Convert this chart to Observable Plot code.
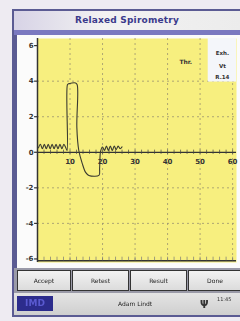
<!DOCTYPE html>
<html><head><meta charset="utf-8">
<script src="https://cdn.jsdelivr.net/npm/d3@7"></script>
<script src="https://cdn.jsdelivr.net/npm/@observablehq/plot@0.6"></script>
<style>
html,body{margin:0;padding:0;width:240px;height:321px;overflow:hidden;background:#eeebf2;font-family:"DejaVu Sans",sans-serif;}
#wrap{position:absolute;left:0;top:0;width:240px;height:321px;filter:blur(0.35px);}
#frame{position:absolute;left:12px;top:9px;width:228px;height:308px;background:#5b5b93;}
#titlebar{position:absolute;left:14px;top:11px;width:226px;height:19px;background:linear-gradient(90deg,#d7d3e6,#f2f2f2 40%,#ececec);text-align:center;font:bold 9px "DejaVu Sans";color:#3b3b8c;line-height:19px;letter-spacing:0.2px;}
#band{position:absolute;left:14px;top:30px;width:226px;height:5px;background:#7b79c0;}
#panel{position:absolute;left:17px;top:35px;width:223px;height:233px;background:#fbfbfb;}
#chart{position:absolute;left:17px;top:35px;}
#btnbar{position:absolute;left:14px;top:268px;width:226px;height:25px;background:#9a9aa8;}
.btn{position:absolute;top:270px;height:21px;background:linear-gradient(#f2f2f2,#dcdcdc);border:1px solid #333;box-sizing:border-box;font:6px "DejaVu Sans";color:#222;text-align:center;line-height:20px;}
#status{position:absolute;left:14px;top:293px;width:226px;height:22px;background:linear-gradient(#e4e4e4,#cfcfcf);}
#logo{position:absolute;left:17px;top:296px;width:36px;height:15px;background:#2c2c8c;color:#5a5ad0;font:bold 9px "DejaVu Sans";line-height:15px;text-align:center;}
#user{position:absolute;left:100px;top:296px;width:70px;text-align:center;font:6px "DejaVu Sans";color:#222;line-height:15px;}
#ant{position:absolute;left:200px;top:297px;font:bold 10px "DejaVu Sans";color:#333;line-height:15px;}
#clock{position:absolute;left:217px;top:296px;font:5px "DejaVu Sans";color:#333;}
</style></head>
<body>
<div id="wrap">
<div id="frame"></div>
<div id="titlebar">Relaxed Spirometry</div>
<div id="band"></div>
<div id="panel"></div>
<div id="chart"></div>
<div id="btnbar"></div>
<div class="btn" style="left:17px;width:54px;">Accept</div>
<div class="btn" style="left:72px;width:57px;">Retest</div>
<div class="btn" style="left:130px;width:57px;">Result</div>
<div class="btn" style="left:188px;width:54px;">Done</div>
<div id="status"></div>
<div id="logo">IMD</div>
<div id="user">Adam Lindt</div>
<div id="ant">Ψ</div>
<div id="clock">11:45</div>
</div>
<script>
// Flow trace (time in s, flow in L/s)
const timeVals = [0.3,0.9,1.5,2.1,2.7,3.3,3.9,4.5,5.1,5.7,6.3,6.9,7.5,8.1,8.7,9.1,9.2,9.5,11.7,12.2,12.1,12.7,13.75,14.8,15.8,18.9,19.1,19.4,20.0,20.6,21.2,21.8,22.4,23.0,23.6,24.2,24.8,25.4,26.0];
const flowVals = [0.25,0.45,0.2,0.45,0.2,0.45,0.2,0.45,0.2,0.45,0.2,0.45,0.2,0.45,0.25,0.1,3.8,3.85,3.9,3.8,1.4,0.1,-0.62,-1.13,-1.3,-1.3,-0.9,0.05,0.3,0.1,0.35,0.1,0.35,0.1,0.35,0.15,0.35,0.2,0.3];
const xTicks = [10,20,30,40,50,60];
const yTicks = [-6,-4,-2,0,2,4,6];
const yGrid = [-4,-2,2,4];
const minorX = d3.range(2,61,2);
const noteLabels = ["Thr."];
const noteX = [45.6];
const noteY = [5.05];
const boxLabels = ["Exh.","Vt","R.14"];
const boxLabelY = [5.55,4.85,4.2];
const boxX = [52.5, 61.2];
const boxY = [3.95, 6.4];

const trace = timeVals.map((t,i)=>({t, f: flowVals[i]}));
const yMin = -6.1;

const chart = Plot.plot({
  width: 223, height: 233,
  marginLeft: 20, marginRight: 4, marginTop: 3, marginBottom: 6,
  x: {type: "linear", domain: [0, 61.2], axis: null},
  y: {type: "linear", domain: [-6.2, 6.4], axis: null},
  style: {background: "transparent", fontFamily: "DejaVu Sans"},
  marks: [
    Plot.frame({fill: "#f7ef7f", stroke: "none"}),
    Plot.ruleX(xTicks, {stroke: "#9c9470", strokeDasharray: "2,3", strokeWidth: 0.8}),
    Plot.ruleY(yGrid, {stroke: "#9c9470", strokeDasharray: "2,3", strokeWidth: 0.8}),
    Plot.rect([{x1: boxX[0], x2: boxX[1], y1: boxY[0], y2: boxY[1]}], {x1: "x1", x2: "x2", y1: "y1", y2: "y2", fill: "#f4f6fa"}),
    Plot.ruleY([0], {stroke: "#333", strokeWidth: 1.2}),
    Plot.ruleY([yMin], {stroke: "#333", strokeWidth: 1.5}),
    Plot.ruleX(minorX, {y1: -0.12, y2: 0.12, stroke: "#444", strokeWidth: 0.7}),
    Plot.ruleX(minorX, {y1: yMin, y2: yMin + 0.2, stroke: "#777", strokeWidth: 0.7}),
    Plot.ruleX([0], {stroke: "#333", strokeWidth: 1.5}),
    Plot.ruleY(yTicks, {x1: -0.9, x2: 0, stroke: "#333", strokeWidth: 1.2}),
    Plot.text(yTicks, {x: 0, y: d => d, text: d => String(d), dx: -4, textAnchor: "end", fontSize: 7, fontWeight: "bold", fill: "#333"}),
    Plot.text(xTicks, {x: d => d, y: 0, text: d => String(d), dy: 9, fontSize: 7, fontWeight: "bold", fill: "#333"}),
    Plot.line(trace, {x: "t", y: "f", stroke: "#3a3a30", strokeWidth: 1.1, curve: "catmull-rom"}),
    Plot.text(noteLabels, {x: (d,i) => noteX[i], y: (d,i) => noteY[i], text: d => d, fontSize: 6, fontWeight: "bold", fill: "#333"}),
    Plot.text(boxLabels, {x: (boxX[0]+boxX[1])/2, y: (d,i) => boxLabelY[i], text: d => d, fontSize: 5.5, fontWeight: "bold", fill: "#333"})
  ]
});
document.getElementById("chart").appendChild(chart);
</script>
</body></html>
